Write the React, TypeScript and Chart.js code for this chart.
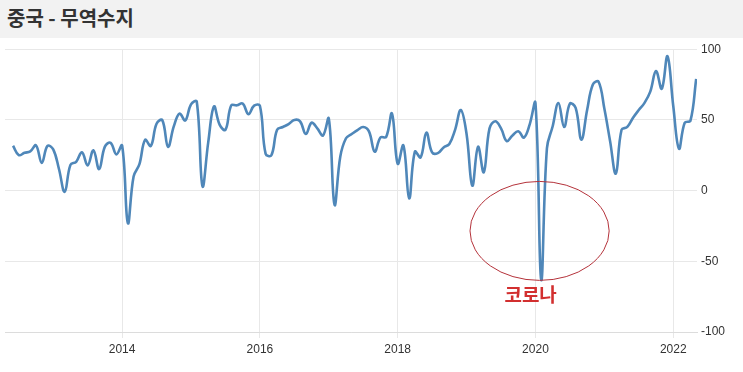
import React, { useEffect, useRef } from "react";
import { Chart, registerables } from "chart.js";

Chart.register(...registerables);

const chartTitle = "중국 - 무역수지";

const months = [
  "2012-06", "2012-07", "2012-08", "2012-09", "2012-10", "2012-11", "2012-12",
  "2013-01", "2013-02", "2013-03", "2013-04", "2013-05", "2013-06", "2013-07", "2013-08", "2013-09", "2013-10", "2013-11", "2013-12",
  "2014-01", "2014-02", "2014-03", "2014-04", "2014-05", "2014-06", "2014-07", "2014-08", "2014-09", "2014-10", "2014-11", "2014-12",
  "2015-01", "2015-02", "2015-03", "2015-04", "2015-05", "2015-06", "2015-07", "2015-08", "2015-09", "2015-10", "2015-11", "2015-12",
  "2016-01", "2016-02", "2016-03", "2016-04", "2016-05", "2016-06", "2016-07", "2016-08", "2016-09", "2016-10", "2016-11", "2016-12",
  "2017-01", "2017-02", "2017-03", "2017-04", "2017-05", "2017-06", "2017-07", "2017-08", "2017-09", "2017-10", "2017-11", "2017-12",
  "2018-01", "2018-02", "2018-03", "2018-04", "2018-05", "2018-06", "2018-07", "2018-08", "2018-09", "2018-10", "2018-11", "2018-12",
  "2019-01", "2019-02", "2019-03", "2019-04", "2019-05", "2019-06", "2019-07", "2019-08", "2019-09", "2019-10", "2019-11", "2019-12",
  "2020-01", "2020-02", "2020-03", "2020-04", "2020-05", "2020-06", "2020-07", "2020-08", "2020-09", "2020-10", "2020-11", "2020-12",
  "2021-01", "2021-02", "2021-03", "2021-04", "2021-05", "2021-06", "2021-07", "2021-08", "2021-09", "2021-10", "2021-11", "2021-12",
  "2022-01", "2022-02", "2022-03", "2022-04", "2022-05",
];

const tradeBalance = [
  31.7, 25.1, 26.7, 27.7, 32.0, 19.6, 31.6,
  29.2, 15.3, -0.9, 18.2, 20.4, 27.1, 17.8, 28.5, 15.2, 31.1, 33.8, 25.6,
  31.9, -23.0, 10.0, 18.5, 35.9, 31.6, 47.3, 49.8, 31.0, 45.4, 54.5, 49.6,
  61.0, 63.0, 3.1, 34.1, 59.5, 46.5, 43.0, 60.2, 60.3, 61.6, 54.1, 60.1,
  60.0, 26.0, 25.0, 43.0, 45.0, 47.0, 50.0, 49.0, 40.0, 48.0, 44.0, 39.0,
  51.0, -10.0, 24.0, 37.0, 40.0, 42.8, 45.0, 41.9, 27.5, 37.5, 38.0, 54.5,
  19.0, 32.0, -5.5, 27.5, 23.5, 41.0, 27.0, 26.5, 30.5, 33.0, 43.0, 57.0,
  40.0, 3.5, 31.0, 13.0, 44.0, 49.0, 44.0, 35.0, 39.0, 42.0, 37.5, 46.8,
  62.0, -63.0, 30.0, 45.5, 62.0, 45.0, 61.5, 58.5, 36.0, 57.0, 75.0, 77.0,
  58.0, 35.0, 12.0, 43.0, 45.0, 51.5, 57.0, 62.0, 70.0, 84.5, 72.0, 95.0,
  60.0, 29.6, 48.0, 49.5, 79.0,
];

const yearTicks = [2014, 2016, 2018, 2020, 2022];
const valueTicks = [-100, -50, 0, 50, 100];
const xRange = [2012.3, 2022.345];
const yRange = [-100, 100];

const covidLabel = "코로나";
const covidEllipse = { cx: 2020.06, cy: -28.5, rx: 1.01, ry: 35 };
const covidLabelAt = { x: 2019.93, y: -74 };

const toYear = (m: string) => {
  const [y, mo] = m.split("-").map(Number);
  return y + (mo - 1) / 12;
};

const tickFont = "'Liberation Sans', Arial, sans-serif";

const annotationPlugin = {
  id: "covidAnnotation",
  afterDatasetsDraw(chart: any) {
    const { ctx, scales } = chart;
    const xs = scales.x;
    const ys = scales.y;
    const cx = xs.getPixelForValue(covidEllipse.cx);
    const cy = ys.getPixelForValue(covidEllipse.cy);
    const rx = Math.abs(xs.getPixelForValue(covidEllipse.cx + covidEllipse.rx) - cx);
    const ry = Math.abs(ys.getPixelForValue(covidEllipse.cy + covidEllipse.ry) - cy);
    ctx.save();
    ctx.beginPath();
    ctx.ellipse(cx, cy, rx, ry, 0, 0, Math.PI * 2);
    ctx.strokeStyle = "#b4323a";
    ctx.lineWidth = 1;
    ctx.stroke();
    ctx.font = "bold 19px 'Noto Sans CJK KR', sans-serif";
    ctx.fillStyle = "#d22f2f";
    ctx.textAlign = "center";
    ctx.textBaseline = "middle";
    ctx.fillText(covidLabel, xs.getPixelForValue(covidLabelAt.x), ys.getPixelForValue(covidLabelAt.y));
    ctx.restore();
  },
};

export default function App() {
  const canvasRef = useRef<HTMLCanvasElement | null>(null);

  useEffect(() => {
    document.body.style.margin = "0";
    const canvas = canvasRef.current;
    if (!canvas) return;
    const chart = new Chart(canvas, {
      type: "line",
      data: {
        datasets: [
          {
            data: months.map((m, i) => ({ x: toYear(m), y: tradeBalance[i] })),
            borderColor: "#4f87b9",
            borderWidth: 2.6,
            pointRadius: 0,
            tension: 0.4,
            fill: false,
          },
        ],
      },
      options: {
        animation: false,
        responsive: false,
        layout: { padding: { left: 5, top: 10, right: 0, bottom: 0 } },
        plugins: { legend: { display: false }, tooltip: { enabled: false } },
        scales: {
          x: {
            type: "linear",
            min: xRange[0],
            max: xRange[1],
            afterBuildTicks: (s: any) => {
              s.ticks = yearTicks.map((v) => ({ value: v }));
            },
            afterFit: (s: any) => {
              s.height = 40;
            },
            grid: { color: "#e8e8e8", tickLength: 6, tickColor: "#e8e8e8" },
            border: { color: "#dcdcdc" },
            ticks: {
              color: "#333",
              font: { family: tickFont, size: 12 },
              padding: 4,
              maxRotation: 0,
              callback: (v: any) => String(v),
            },
          },
          y: {
            position: "right",
            min: yRange[0],
            max: yRange[1],
            afterBuildTicks: (s: any) => {
              s.ticks = valueTicks.map((v) => ({ value: v }));
            },
            afterFit: (s: any) => {
              s.width = 46;
            },
            grid: { color: "#e8e8e8", drawTicks: false },
            border: { display: false },
            ticks: {
              color: "#333",
              font: { family: tickFont, size: 12 },
              padding: 4,
              callback: (v: any) => String(v),
            },
          },
        },
      },
      plugins: [annotationPlugin],
    } as any);
    return () => chart.destroy();
  }, []);

  return (
    <div style={{ position: "absolute", left: 0, top: 0, width: 743, height: 372, background: "#fff" }}>
      <div
        style={{
          height: 38,
          background: "#f2f2f2",
          color: "#333",
          fontFamily: "'Noto Sans CJK KR', sans-serif",
          fontSize: 20,
          fontWeight: 600,
          lineHeight: "36px",
          paddingLeft: 7,
          boxSizing: "border-box",
        }}
      >
        {chartTitle}
      </div>
      <canvas ref={canvasRef} width={743} height={334} style={{ display: "block" }} />
    </div>
  );
}
